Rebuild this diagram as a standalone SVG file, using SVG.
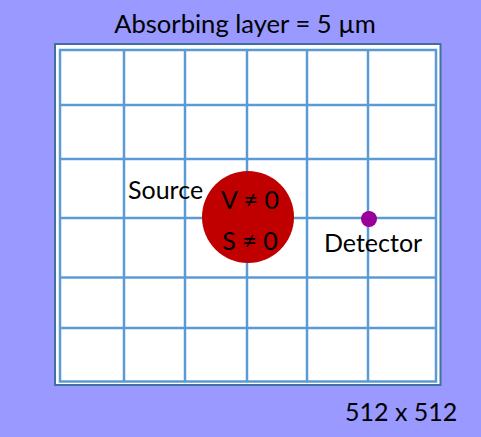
<svg xmlns="http://www.w3.org/2000/svg" width="481" height="437" viewBox="0 0 481 437">
  <style>
    .t { font-family: Lato, "Liberation Sans", sans-serif; fill: #000; font-size: 25px; }
    .grid line { stroke: #5b9bd5; stroke-width: 2.5; }
  </style>
  <rect x="0" y="0" width="481" height="437" fill="#9999ff"/>
  <g id="absorbing-layer">
    <rect x="55" y="44" width="385.5" height="341" fill="#ffffff" stroke="#41719c" stroke-width="2"/>
    <text class="t" x="245" y="33" style="font-size:25.6px" text-anchor="middle">Absorbing layer = 5 µm</text>
  </g>
  <g id="grid" class="grid">
    <rect x="60" y="50" width="376" height="331.5" fill="#ffffff" stroke="#5b9bd5" stroke-width="2.5"/>
    <line x1="124" y1="50" x2="124" y2="381.5"/>
    <line x1="185" y1="50" x2="185" y2="381.5"/>
    <line x1="247" y1="50" x2="247" y2="381.5"/>
    <line x1="307" y1="50" x2="307" y2="381.5"/>
    <line x1="368" y1="50" x2="368" y2="381.5"/>
    <line x1="60" y1="105" x2="436" y2="105"/>
    <line x1="60" y1="159" x2="436" y2="159"/>
    <line x1="60" y1="218" x2="436" y2="218"/>
    <line x1="60" y1="277.5" x2="436" y2="277.5"/>
    <line x1="60" y1="328" x2="436" y2="328"/>
  </g>
  <g id="source">
    <circle cx="248" cy="217" r="46" fill="#c00000"/>
    <text class="t" x="128" y="199">Source</text>
    <text class="t" x="250" y="209" text-anchor="middle">V ≠ 0</text>
    <text class="t" x="250" y="250" text-anchor="middle">S ≠ 0</text>
  </g>
  <g id="detector">
    <circle cx="369" cy="219" r="8" fill="#990099"/>
    <text class="t" x="324" y="252">Detector</text>
  </g>
  <g id="size-label">
    <text class="t" x="345" y="421">512 x 512</text>
  </g>
  <g id="connectors"/>
</svg>
